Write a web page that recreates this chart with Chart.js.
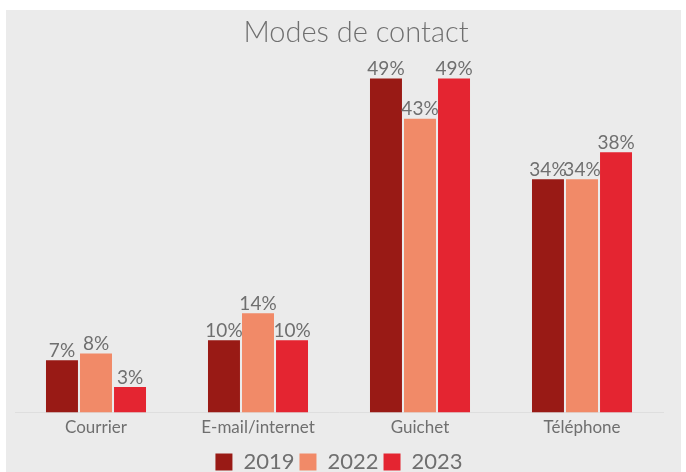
<!DOCTYPE html>
<html>
<head>
<meta charset="utf-8">
<script src="https://cdn.jsdelivr.net/npm/chart.js@4/dist/chart.umd.min.js"></script>
<style>
  html, body { margin: 0; padding: 0; background: #ffffff; }
  #box {
    position: absolute;
    left: 6px;
    top: 10px;
    width: 675px;
    height: 462px;
    background: #ebebeb;
  }
</style>
</head>
<body>
<div id="box"><canvas id="chart" width="675" height="462"></canvas></div>
<script>
"use strict";

// Categories and series (percent)
const categories = ["Courrier", "E-mail/internet", "Guichet", "Téléphone"];
const years = ["2019", "2022", "2023"];
const values2019 = [7, 10, 49, 34];
const values2022 = [8, 14, 43, 34];
const values2023 = [3, 10, 49, 38];
const seriesColors = ["#991a15", "#f18a68", "#e42531"];

// Axis floor a little below zero; bars start from it, as in the original
const AXIS_MIN = -0.8;
const AXIS_MAX = 50;

const FONT = "Lato, 'Open Sans', sans-serif";
const TEXT_GRAY = "#6f6f6f";

// Draw value labels above each bar, using bar element positions
const valueLabels = {
  id: "valueLabels",
  afterDatasetsDraw(chart) {
    const ctx = chart.ctx;
    ctx.save();
    ctx.font = "19px " + FONT;
    ctx.fillStyle = TEXT_GRAY;
    ctx.textAlign = "center";
    ctx.textBaseline = "bottom";
    chart.data.datasets.forEach((ds, i) => {
      const meta = chart.getDatasetMeta(i);
      meta.data.forEach((bar, j) => {
        ctx.fillText(ds.data[j] + "%", bar.x, bar.y);
      });
    });
    ctx.restore();
  },
};

// Title in the original sits a bit right of centre
const shiftTitle = {
  id: "shiftTitle",
  afterLayout(chart) {
    const t = chart.titleBlock;
    if (!t) return;
    t.left += 17;
    t.right += 17;
  },
};

const seriesValues = [values2019, values2022, values2023];

new Chart(document.getElementById("chart"), {
  type: "bar",
  data: {
    labels: categories,
    datasets: years.map((y, i) => ({
      label: y,
      data: seriesValues[i],
      backgroundColor: seriesColors[i],
      borderWidth: 0,
      base: AXIS_MIN,
      categoryPercentage: 0.63,
      barPercentage: 0.94,
    })),
  },
  options: {
    responsive: false,
    animation: false,
    layout: { padding: { left: 9, right: 18, top: 0, bottom: -11 } },
    plugins: {
      title: {
        display: true,
        text: "Modes de contact",
        color: TEXT_GRAY,
        font: { family: FONT, size: 29, weight: 300 },
        padding: { top: 5, bottom: 22 },
      },
      legend: {
        position: "bottom",
        labels: {
          color: TEXT_GRAY,
          font: { family: FONT, size: 22 },
          boxWidth: 17,
          boxHeight: 17,
          padding: 5,
        },
      },
      tooltip: { enabled: false },
    },
    scales: {
      x: {
        grid: { display: false, drawTicks: false },
        border: { display: true, color: "#dedede", width: 1 },
        ticks: {
          color: TEXT_GRAY,
          font: { family: FONT, size: 17 },
          padding: 5,
        },
        // extra room between the category labels and the legend
        afterFit(scale) {
          scale.height += 3;
        },
      },
      y: {
        display: false,
        min: AXIS_MIN,
        max: AXIS_MAX,
      },
    },
  },
  plugins: [valueLabels, shiftTitle],
});
</script>
</body>
</html>
